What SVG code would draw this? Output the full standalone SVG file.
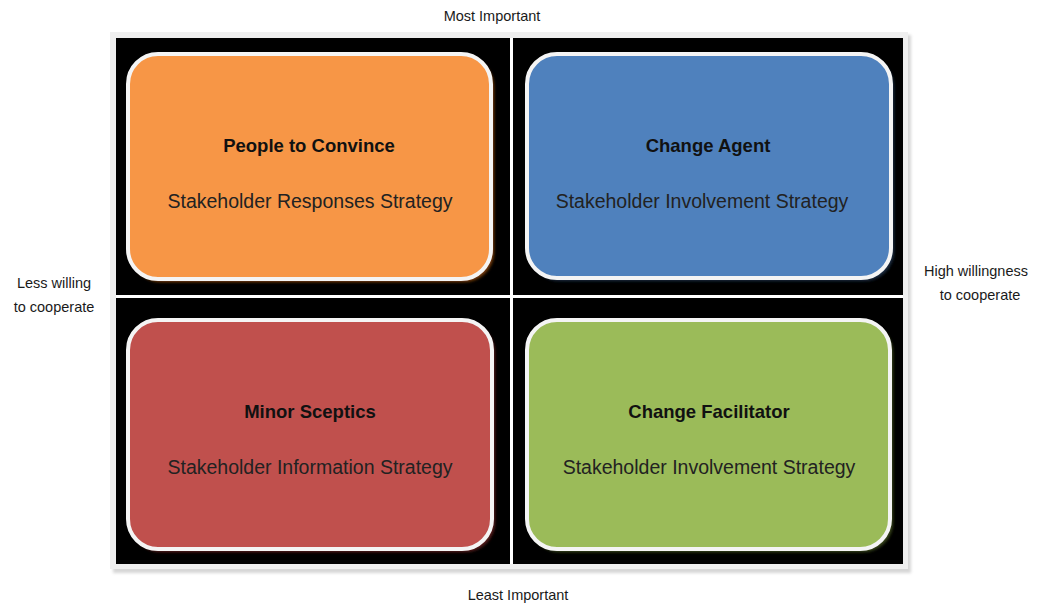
<svg xmlns="http://www.w3.org/2000/svg" width="1043" height="604" viewBox="0 0 1043 604">
<defs>
<filter id="blur" x="-10%" y="-10%" width="120%" height="120%"><feGaussianBlur stdDeviation="1.5"/></filter>
</defs>
<style>
.lbl{font-family:"Liberation Sans",Arial,sans-serif;font-size:14.5px;fill:#1a1a1a;text-anchor:middle}
.title{font-family:"Liberation Sans",Arial,sans-serif;font-size:18.5px;font-weight:bold;fill:#111;text-anchor:middle}
.sub{font-family:"Liberation Sans",Arial,sans-serif;font-size:19.5px;fill:#222;text-anchor:middle}
.box{stroke:#f4f4f4;stroke-width:4}
.shadow{filter:url(#blur)}
</style>
<rect width="1043" height="604" fill="#ffffff"/>
<g id="frame">
<rect x="113" y="35" width="798" height="538" fill="#d6d6d6" filter="url(#blur)"/>
<rect x="110" y="32" width="798" height="537" fill="#efefef"/>
<rect x="116" y="38" width="787" height="526" fill="#000000"/>
<rect x="510" y="38" width="3" height="526" fill="#ffffff"/>
<rect x="116" y="295" width="787" height="3" fill="#ffffff"/>
</g>
<g id="people-to-convince">
<rect class="shadow" x="131" y="57" width="363" height="225" rx="30" fill="#7a3c0a"/>
<rect class="box" x="128" y="54" width="363" height="225" rx="30" fill="#F79646"/>
<text class="title" x="309" y="152">People to Convince</text>
<text class="sub" x="310" y="208">Stakeholder Responses Strategy</text>
</g>
<g id="change-agent">
<rect class="shadow" x="530" y="57" width="364" height="224" rx="30" fill="#1c2d44"/>
<rect class="box" x="527" y="54" width="364" height="224" rx="30" fill="#4F81BD"/>
<text class="title" x="708" y="152">Change Agent</text>
<text class="sub" x="702" y="208">Stakeholder Involvement Strategy</text>
</g>
<g id="minor-sceptics">
<rect class="shadow" x="131" y="323" width="364" height="229" rx="30" fill="#5a1e1c"/>
<rect class="box" x="128" y="320" width="364" height="229" rx="30" fill="#C0504D"/>
<text class="title" x="310" y="418">Minor Sceptics</text>
<text class="sub" x="310" y="474">Stakeholder Information Strategy</text>
</g>
<g id="change-facilitator">
<rect class="shadow" x="530" y="323" width="363" height="229" rx="30" fill="#3a4a1c"/>
<rect class="box" x="527" y="320" width="363" height="229" rx="30" fill="#9BBB59"/>
<text class="title" x="709" y="418">Change Facilitator</text>
<text class="sub" x="709" y="474">Stakeholder Involvement Strategy</text>
</g>
<g id="axis-labels">
<text class="lbl" x="492" y="21">Most Important</text>
<text class="lbl" x="518" y="600">Least Important</text>
<text class="lbl" x="54" y="288">Less willing</text>
<text class="lbl" x="54" y="312">to cooperate</text>
<text class="lbl" x="976" y="276" font-size="13.5">High willingness</text>
<text class="lbl" x="980" y="300">to cooperate</text>
</g>
</svg>
